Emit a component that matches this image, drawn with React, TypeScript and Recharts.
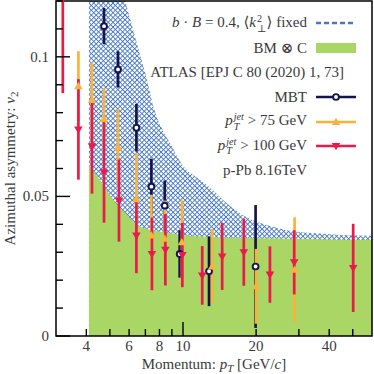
import React from 'react';
import { ComposedChart, Area, Scatter, ErrorBar, XAxis, YAxis, ReferenceArea } from 'recharts';

// model curves (p_T grid, v2 values)
const modelPt = [4.1, 4.5, 5, 5.5, 5.75, 6, 6.5, 7, 7.65, 8.27, 9, 9.69, 10.5, 11.4, 12.9, 14.5, 16.6, 18, 21.3, 25, 27.5, 36.6, 45, 60];
const bmC = [0.061, 0.0565, 0.0505, 0.046, 0.0443, 0.0425, 0.0398, 0.0385, 0.0378, 0.0372, 0.0367, 0.0363, 0.036, 0.0357, 0.0355, 0.0353, 0.0352, 0.0351, 0.035, 0.0349, 0.0348, 0.0347, 0.0345, 0.0344];
const bB04 = [0.17, 0.155, 0.14, 0.127, 0.121, 0.115, 0.104, 0.094, 0.0806, 0.0735, 0.068, 0.0628, 0.059, 0.0568, 0.0532, 0.049, 0.0449, 0.0428, 0.0402, 0.0385, 0.0377, 0.0367, 0.0362, 0.0359];

// ATLAS MBT
const mbtPt = [4.73, 5.4, 6.43, 7.41, 8.41, 9.69, 12.8, 19.9];
const mbtV2 = [0.111, 0.0955, 0.0746, 0.0535, 0.0467, 0.0294, 0.0232, 0.0249];
const mbtErr = [0.0065, 0.0065, 0.0085, 0.01, 0.009, 0.0085, 0.0125, 0.022];

// pT jet > 75 GeV
const pt75Pt = [3.71, 4.22, 4.73, 5.4, 6.43, 7.41, 8.41, 9.9, 13.2, 20.0, 28.8];
const pt75V2 = [0.0895, 0.0845, 0.0777, 0.0676, 0.049, 0.036, 0.0348, 0.0336, 0.0249, 0.0178, 0.0237];
const pt75Err = [0.0125, 0.0135, 0.011, 0.0137, 0.0165, 0.0146, 0.0137, 0.015, 0.0134, 0.0134, 0.0188];

// pT jet > 100 GeV
const pt100Pt = [3.2, 3.71, 4.22, 4.73, 5.45, 6.43, 7.45, 8.46, 9.94, 12.0, 14.5, 17.8, 22.8, 28.7, 50.2];
const pt100V2 = [0.125, 0.074, 0.068, 0.0586, 0.0485, 0.036, 0.0294, 0.0309, 0.029, 0.0217, 0.0285, 0.03, 0.022, 0.0264, 0.0244];
const pt100Err = [0.038, 0.018, 0.017, 0.018, 0.0147, 0.0135, 0.013, 0.0128, 0.0115, 0.0105, 0.012, 0.012, 0.0101, 0.0115, 0.0158];

const xTicks = [4, 5, 6, 7, 8, 9, 10, 20, 30, 40, 50];
const xTickLabels = [4, 6, 8, 10, 20, 40];
const yTicks = [0, 0.01, 0.02, 0.03, 0.04, 0.05, 0.06, 0.07, 0.08, 0.09, 0.1, 0.11, 0.12];
const yTickLabels = [0, 0.05, 0.1];

const NAVY = '#17144b';
const ORANGE = '#f8b33d';
const RED = '#ea1a4b';
const GREEN = '#a9d664';
const BLUE = '#4677c8';
const TEXT = '#3a3a3a';
const FONT = '"Liberation Serif", "DejaVu Serif", serif';

const modelData = modelPt.map((x, i) => ({ x, bm: bmC[i], band: bB04[i] }));
const mbtData = mbtPt.map((x, i) => ({ x, y: mbtV2[i], err: mbtErr[i] }));
const pt75Data = pt75Pt.map((x, i) => ({ x, y: pt75V2[i], err: pt75Err[i] }));
const pt100Data = pt100Pt.map((x, i) => ({ x, y: pt100V2[i], err: pt100Err[i] }));

const OpenCircle = ({ cx, cy }: any) => (
  <circle cx={cx} cy={cy} r={2.9} fill="#fff" stroke={NAVY} strokeWidth={1.9} />
);
const UpTri = ({ cx, cy }: any) => (
  <polygon points={`${cx - 4.3},${cy + 3} ${cx + 4.3},${cy + 3} ${cx},${cy - 4.3}`} fill={ORANGE} />
);
const DownTri = ({ cx, cy }: any) => (
  <polygon points={`${cx - 4.3},${cy - 3} ${cx + 4.3},${cy - 3} ${cx},${cy + 4.3}`} fill={RED} />
);

const XTick = ({ x, y, payload }: any) => {
  const v = payload.value;
  const len = v === 10 ? 14 : 7;
  return (
    <g>
      <line x1={x} x2={x} y1={y} y2={y - len} stroke="#000" strokeWidth={1.4} />
      {xTickLabels.includes(v) && (
        <text x={x} y={y + 15} textAnchor="middle" fontSize={15} fontFamily={FONT} fill={TEXT}>{v}</text>
      )}
    </g>
  );
};

const YTick = ({ x, y, payload }: any) => {
  const v = payload.value;
  const major = yTickLabels.includes(v);
  return (
    <g>
      <line x1={x} x2={x + (major ? 14 : 7)} y1={y} y2={y} stroke="#000" strokeWidth={1.4} />
      {major && (
        <text x={x - 7} y={y + 5} textAnchor="end" fontSize={15} fontFamily={FONT} fill={TEXT}>{v}</text>
      )}
    </g>
  );
};

const XTitle = ({ viewBox }: any) => (
  <text x={viewBox.x + viewBox.width / 2} y={369} textAnchor="middle" fontSize={15} fontFamily={FONT} fill={TEXT}>
    Momentum: <tspan fontStyle="italic">p</tspan>
    <tspan fontStyle="italic" fontSize={11} dy={3}>T</tspan>
    <tspan dy={-3}> [GeV/</tspan><tspan fontStyle="italic">c</tspan>]
  </text>
);

const YTitle = ({ viewBox }: any) => {
  const cy = viewBox.y + viewBox.height / 2;
  return (
    <text x={0} y={0} transform={`translate(15, ${cy}) rotate(-90)`} textAnchor="middle" fontSize={15} fontFamily={FONT} fill={TEXT}>
      Azimuthal asymmetry: <tspan fontStyle="italic">v</tspan>
      <tspan fontSize={11} dy={3}>2</tspan>
    </text>
  );
};

const Stack = ({ sup, sub }: any) => (
  <span style={{ display: 'inline-flex', flexDirection: 'column', fontSize: '0.68em', lineHeight: 0.95, verticalAlign: 'middle', marginLeft: 1 }}>
    <span>{sup}</span>
    <span>{sub}</span>
  </span>
);

const Icon = ({ kind }: { kind: string }) => (
  <svg width={40} height={14} style={{ marginLeft: 9, flex: 'none' }}>
    {kind === 'dash' && <line x1={0} x2={40} y1={7} y2={7} stroke={BLUE} strokeWidth={2.5} strokeDasharray="5 3" />}
    {kind === 'green' && <rect x={0} y={2} width={40} height={10} fill={GREEN} />}
    {kind === 'mbt' && (
      <g>
        <line x1={0} x2={40} y1={7} y2={7} stroke={NAVY} strokeWidth={2.5} />
        <OpenCircle cx={20} cy={7} />
      </g>
    )}
    {kind === 'p75' && (
      <g>
        <line x1={0} x2={40} y1={7} y2={7} stroke={ORANGE} strokeWidth={2.5} />
        <UpTri cx={20} cy={7} />
      </g>
    )}
    {kind === 'p100' && (
      <g>
        <line x1={0} x2={40} y1={7} y2={7} stroke={RED} strokeWidth={2.5} />
        <DownTri cx={20} cy={7} />
      </g>
    )}
  </svg>
);

const pTjet = (
  <>
    <i>p</i>
    <Stack sup={<i>jet</i>} sub={<i>T</i>} />
  </>
);

const legendRows: { label: React.ReactNode; icon?: string; pad?: number }[] = [
  { label: <><i>b</i> · <i>B</i> = 0.4, ⟨<i>k</i><Stack sup="2" sub="⊥" />⟩ fixed</>, icon: 'dash' },
  { label: <>BM ⊗ C</>, icon: 'green' },
  { label: <>ATLAS [EPJ C 80 (2020) 1, 73]</>, pad: 12 },
  { label: <>MBT</>, icon: 'mbt' },
  { label: <>{pTjet} &gt; 75 GeV</>, icon: 'p75' },
  { label: <>{pTjet} &gt; 100 GeV</>, icon: 'p100' },
  { label: <>p-Pb 8.16TeV</>, pad: 49 },
];

export default function App() {
  return (
    <div style={{ position: 'absolute', left: 0, top: 0, width: 374, height: 374, background: '#fff', fontFamily: FONT }}>
      <ComposedChart width={374} height={374} data={modelData} margin={{ top: 1, right: 2, left: 0, bottom: 0 }}>
        <defs>
          <pattern id="hatch" width={3.4} height={3.4} patternUnits="userSpaceOnUse" patternTransform="rotate(45)">
            <rect width={3.4} height={3.4} fill="#fff" />
            <line x1={0} y1={0} x2={3.4} y2={0} stroke={BLUE} strokeWidth={1.8} />
            <line x1={0} y1={0} x2={0} y2={3.4} stroke={BLUE} strokeWidth={1.8} />
          </pattern>
        </defs>
        <XAxis
          dataKey="x"
          type="number"
          scale="log"
          domain={[3, 60]}
          allowDataOverflow
          ticks={xTicks}
          interval={0}
          tick={<XTick />}
          tickSize={0}
          tickMargin={0}
          tickLine={false}
          axisLine={false}
          height={38}
          label={XTitle}
        />
        <YAxis
          type="number"
          domain={[0, 0.12]}
          allowDataOverflow
          ticks={yTicks}
          interval={0}
          tick={<YTick />}
          tickSize={0}
          tickMargin={0}
          tickLine={false}
          axisLine={false}
          width={56}
          label={YTitle}
        />
        <Area dataKey="band" type="monotone" stroke="none" fill="url(#hatch)" fillOpacity={1} isAnimationActive={false} />
        <Area dataKey="bm" type="monotone" stroke="none" fill={GREEN} fillOpacity={1} isAnimationActive={false} />
        <Scatter data={mbtData} dataKey="y" shape={<OpenCircle />} isAnimationActive={false}>
          <ErrorBar dataKey="err" direction="y" width={0} stroke={NAVY} strokeWidth={2.7} isAnimationActive={false} />
        </Scatter>
        <Scatter data={pt75Data} dataKey="y" shape={<UpTri />} isAnimationActive={false}>
          <ErrorBar dataKey="err" direction="y" width={0} stroke={ORANGE} strokeWidth={2.7} isAnimationActive={false} />
        </Scatter>
        <Scatter data={pt100Data} dataKey="y" shape={<DownTri />} isAnimationActive={false}>
          <ErrorBar dataKey="err" direction="y" width={0} stroke={RED} strokeWidth={2.7} isAnimationActive={false} />
        </Scatter>
        <ReferenceArea x1={3} x2={60} y1={0} y2={0.12} fill="none" fillOpacity={0} stroke="#000" strokeWidth={1.5} ifOverflow="extendDomain" />
      </ComposedChart>
      <div style={{ position: 'absolute', top: 11, right: 18, color: TEXT, fontSize: 15 }}>
        {legendRows.map((r, i) => (
          <div key={i} style={{ height: 24.6, display: 'flex', alignItems: 'center', justifyContent: 'flex-end', paddingRight: r.pad || 0, whiteSpace: 'nowrap' }}>
            <span>{r.label}</span>
            {r.icon && <Icon kind={r.icon} />}
          </div>
        ))}
      </div>
    </div>
  );
}
